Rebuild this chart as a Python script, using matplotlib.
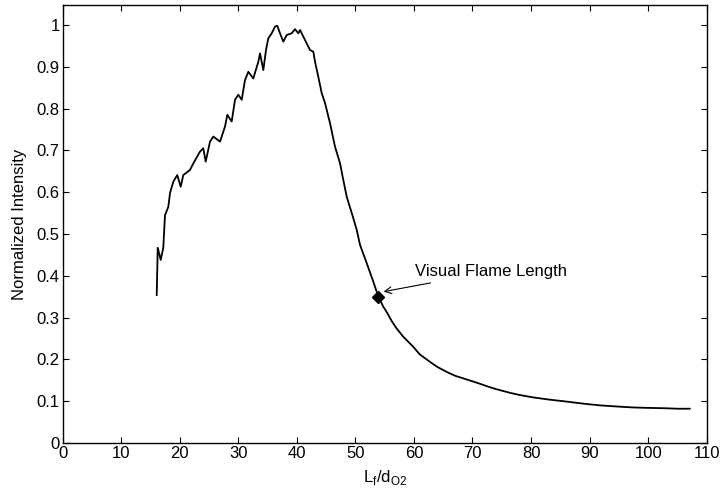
import matplotlib
matplotlib.use("Agg")
import matplotlib.pyplot as plt

plt.rcParams['font.family'] = ['Liberation Sans', 'DejaVu Sans']
plt.rcParams['mathtext.fontset'] = 'custom'
plt.rcParams['mathtext.rm'] = 'Liberation Sans'

x_vals = [16.09, 16.26, 16.77, 17.21, 17.50, 18.07, 18.36, 18.92, 19.60, 20.18,
          20.63, 21.77, 22.34, 23.48, 24.04, 24.45, 25.19, 25.75, 26.90, 27.75,
          28.14, 28.89, 29.46, 30.02, 30.60, 31.16, 31.73, 32.58, 33.44, 33.73,
          34.29, 34.75, 35.14, 35.72, 36.29, 36.68, 37.14, 37.71, 38.29, 39.14,
          39.70, 40.27, 40.56, 41.41, 42.26, 42.83, 43.12, 43.68, 44.26, 44.83,
          45.68, 46.53, 47.39, 47.95, 48.53, 49.39, 50.24, 50.80, 51.95, 53.07,
          53.93, 54.78, 55.50, 56.20, 57.00, 58.20, 59.90, 61.00, 62.76, 64.00,
          65.61, 67.00, 69.02, 71.00, 72.44, 74.00, 76.42, 78.00, 80.40, 83.00,
          86.10, 89.00, 91.79, 95.00, 97.47, 100.0, 103.2, 105.0, 107.1]
y_vals = [0.354, 0.467, 0.438, 0.467, 0.545, 0.565, 0.598, 0.625, 0.641, 0.613,
          0.641, 0.653, 0.669, 0.697, 0.705, 0.673, 0.721, 0.733, 0.721, 0.757,
          0.785, 0.769, 0.821, 0.833, 0.821, 0.868, 0.888, 0.872, 0.912, 0.932,
          0.892, 0.940, 0.968, 0.980, 0.996, 0.998, 0.980, 0.960, 0.976, 0.980,
          0.990, 0.980, 0.988, 0.964, 0.940, 0.936, 0.912, 0.876, 0.837, 0.813,
          0.765, 0.709, 0.669, 0.629, 0.589, 0.550, 0.510, 0.474, 0.430, 0.386,
          0.350, 0.326, 0.310, 0.292, 0.275, 0.254, 0.230, 0.212, 0.194, 0.182,
          0.170, 0.161, 0.152, 0.143, 0.136, 0.129, 0.120, 0.115, 0.109, 0.104,
          0.099, 0.094, 0.090, 0.087, 0.085, 0.084, 0.083, 0.082, 0.082]

marker_x = 53.93
marker_y = 0.350
annot_text = "Visual Flame Length"
annot_xy_text = (60.2, 0.41)

x_ticks = list(range(0, 111, 10))
y_ticks = [0, 0.1, 0.2, 0.3, 0.4, 0.5, 0.6, 0.7, 0.8, 0.9, 1]
y_ticklabels = ['0', '0.1', '0.2', '0.3', '0.4', '0.5', '0.6', '0.7', '0.8', '0.9', '1']

fig = plt.figure(figsize=(7.22, 4.91), dpi=100)
ax = fig.add_axes([62.5/722, 1 - 443/491, (706.7-62.5)/722, (443-5.3)/491])

ax.plot(x_vals, y_vals, color='black', lw=1.3)
ax.plot([marker_x], [marker_y], marker='D', color='black', markersize=6)
ax.annotate(annot_text, xy=(marker_x + 0.9, marker_y + 0.012), xytext=annot_xy_text,
            fontsize=12, va='center', ha='left',
            arrowprops=dict(arrowstyle='->', color='black', lw=0.8,
                            shrinkA=4, shrinkB=0))

ax.set_xlim(0, 110)
ax.set_ylim(0, 1.047)
ax.set_xticks(x_ticks)
ax.set_yticks(y_ticks)
ax.set_yticklabels(y_ticklabels)
ax.tick_params(direction='in', top=True, right=True, length=4, width=0.8,
               labelsize=12, pad=2)
for s in ax.spines.values():
    s.set_linewidth(1.0)

ax.set_xlabel(r'L$_\mathregular{f}$/d$_\mathregular{O2}$', fontsize=12, labelpad=5)
ax.set_ylabel('Normalized Intensity', fontsize=12, labelpad=7)

fig.savefig('out.png', dpi=100)
